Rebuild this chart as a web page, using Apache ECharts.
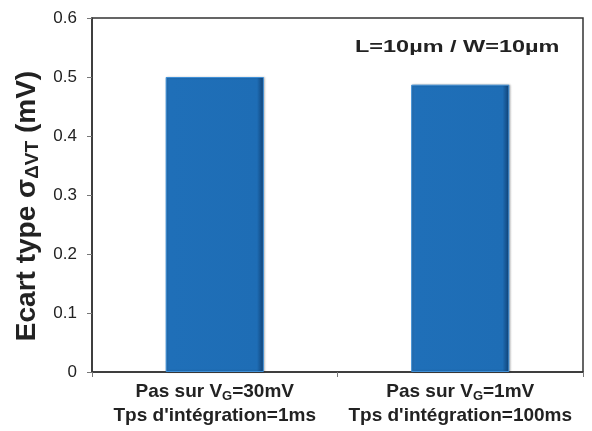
<!DOCTYPE html>
<html>
<head>
<meta charset="utf-8">
<script src="https://cdn.jsdelivr.net/npm/echarts@6/dist/echarts.min.js"></script>
<style>
  html, body { margin: 0; padding: 0; background: #fff; }
  #chart { width: 592px; height: 431px; }
</style>
</head>
<body>
<div id="chart"></div>
<script>
// data
var steps = ['30mV', '1mV'];
var integration = ['1ms', '100ms'];
var sigma = [0.5, 0.487];
var yTicks = [0, 0.1, 0.2, 0.3, 0.4, 0.5, 0.6];
var note = 'L=10µm / W=10µm';

var categories = steps.map(function (s, i) {
    return 'Pas sur V{s|G}=' + s + '\nTps d\'intégration=' + integration[i];
});

var barColor = new echarts.graphic.LinearGradient(0, 0, 1, 0, [
    { offset: 0, color: '#2a78c0' },
    { offset: 0.05, color: '#1f6fb8' },
    { offset: 0.93, color: '#1e6db5' },
    { offset: 1, color: '#0f3f72' }
]);

var font = 'Liberation Sans, Arial';

function getChart() {
    var option = {
        animation: false,
        grid: {
            left: 92, right: 9, top: 18, bottom: 59,
            show: true, borderColor: '#333', borderWidth: 1.5, backgroundColor: '#fff'
        },
        xAxis: {
            type: 'category',
            data: categories,
            axisLine: { lineStyle: { color: '#333', width: 1.5 } },
            axisTick: { show: true, length: 5, lineStyle: { color: '#777' } },
            axisLabel: {
                interval: 0,
                margin: 8,
                fontFamily: font,
                fontWeight: 'bold',
                fontSize: 19,
                color: '#222',
                lineHeight: 24,
                rich: {
                    s: { fontSize: 13, fontWeight: 'bold', fontFamily: font, color: '#222', padding: [9, 0, 0, 0], lineHeight: 24 }
                }
            }
        },
        yAxis: {
            type: 'value',
            min: 0, max: 0.6, interval: 0.1,
            splitLine: { show: false },
            axisLine: { show: true, lineStyle: { color: '#333', width: 1.5 } },
            axisTick: { show: true, length: 5, lineStyle: { color: '#777' } },
            axisLabel: {
                margin: 15,
                fontFamily: font,
                fontSize: 17,
                color: '#222',
                formatter: function (v) {
                    var t = yTicks.filter(function (k) { return Math.abs(k - v) < 1e-9; })[0];
                    return t === undefined ? '' : String(t);
                }
            },
            name: '{a|Ecart type σ}{s|ΔVT}{a| (mV)}',
            nameLocation: 'middle',
            nameGap: 48,
            nameRotate: 90,
            nameTextStyle: {
                padding: [0, 22, 0, 0],
                rich: {
                    a: { fontSize: 28, fontWeight: 'bold', fontFamily: font, color: '#222' },
                    s: { fontSize: 19, fontWeight: 'bold', fontFamily: font, color: '#222', padding: [12, 0, 0, 0] }
                }
            }
        },
        graphic: [{
            type: 'text',
            x: 355, y: 39,
            scaleX: 1.38,
            style: {
                text: note,
                fontFamily: font,
                fontWeight: 'bold',
                fontSize: 17,
                fill: '#222'
            }
        }],
        series: [{
            type: 'bar',
            data: sigma,
            barWidth: '40%',
            itemStyle: {
                color: barColor,
                borderColor: '#3f8fd6',
                borderWidth: 1,
                shadowColor: 'rgba(0,0,0,0.25)',
                shadowBlur: 2,
                shadowOffsetX: 1
            }
        }]
    };
    return option;
}

var myChart = echarts.init(document.getElementById('chart'));
myChart.setOption(getChart());
</script>
</body>
</html>
